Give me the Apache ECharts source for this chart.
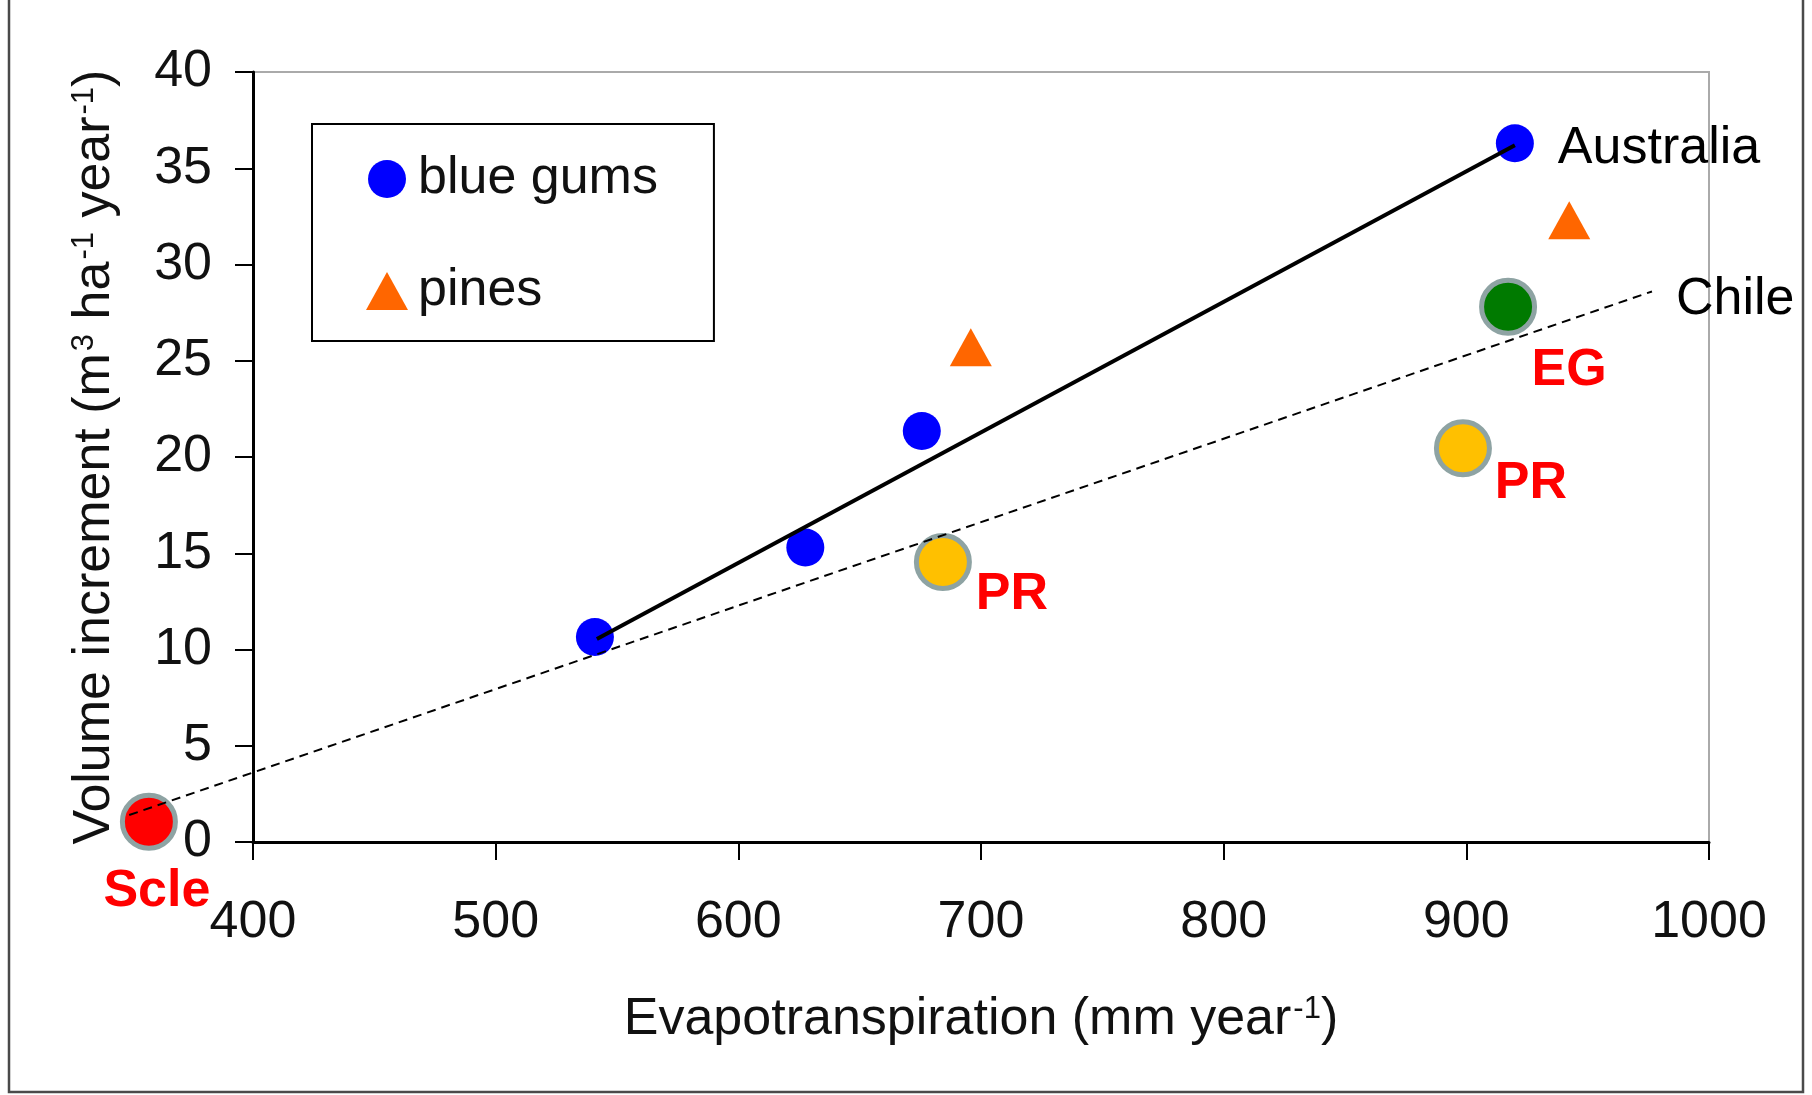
<!DOCTYPE html>
<html><head><meta charset="utf-8">
<script src="https://cdn.jsdelivr.net/npm/echarts@6/dist/echarts.min.js"></script>
<style>html,body{margin:0;padding:0;background:#fff}#c{width:1812px;height:1095px}</style>
</head><body><div id="c"></div>
<script>
// ---- data ----
const blueGumsET  = [540.9, 627.6, 675.6, 920.0];
const blueGumsVol = [10.65, 15.3, 21.35, 36.3];
const pinesET  = [695.8, 942.4];
const pinesVol = [25.7, 32.3];
const highlightNames = ['Scle', 'PR', 'PR', 'EG'];
const highlightET  = [357.1, 684.3, 898.6, 917.2];
const highlightVol = [1.05, 14.55, 20.45, 27.8];
const australiaLineET  = [541.7, 920.0];
const australiaLineVol = [10.55, 36.2];
const chileLineET  = [349.0, 976.5];
const chileLineVol = [1.4, 28.6];
const xTickMin = 400, xTickMax = 1000, xTickStep = 100;
const yTickMin = 0, yTickMax = 40, yTickStep = 5;
const seriesNames = ['blue gums', 'pines'];
const lineNames = ['Australia', 'Chile'];

// ---- styles ----
const FONT = '"Liberation Sans", Arial, Helvetica, sans-serif';
const highlightColors = ['#FF0000', '#FFC000', '#FFC000', '#007A00'];
const highlightLabelOffsets = [[8, 70], [69, 33], [68, 35], [61, 64]];

const pairs = (xs, ys) => xs.map((x, i) => [x, ys[i]]);

const highlightData = highlightET.map((x, i) => ({
  value: [x, highlightVol[i]],
  name: highlightNames[i],
  itemStyle: { color: highlightColors[i] },
  label: { offset: highlightLabelOffsets[i] }
}));

const sup = { fontSize: 31, verticalAlign: 'top', fontFamily: FONT, color: '#111', padding: [0, 0, 0, 2] };

const option = {
  animation: false,
  backgroundColor: '#fff',
  textStyle: { fontFamily: FONT },
  graphic: [{
    type: 'rect', z: -10,
    shape: { x: 9, y: -10, width: 1794, height: 1102 },
    style: { fill: 'none', stroke: '#4a4a4a', lineWidth: 2.5 }
  }],
  grid: {
    left: 253, right: 103, top: 72, bottom: 253,
    containLabel: false, outerBoundsMode: 'none',
    show: true, borderColor: '#aaaaaa', borderWidth: 2, backgroundColor: 'transparent'
  },
  legend: {
    orient: 'vertical', left: 312, top: 124,
    data: seriesNames,
    itemWidth: 42, itemHeight: 38, itemGap: 60,
    padding: [29, 56, 24, 54],
    borderColor: '#000', borderWidth: 2, backgroundColor: '#fff',
    textStyle: { fontSize: 52, lineHeight: 52, color: '#111', fontFamily: FONT, padding: [0, 0, 0, 5] },
    selectedMode: false
  },
  xAxis: {
    type: 'value', min: xTickMin, max: xTickMax, interval: xTickStep,
    name: 'Evapotranspiration (mm year{s|-1})',
    nameLocation: 'middle', nameGap: 152,
    nameTextStyle: { fontSize: 52, color: '#111', fontFamily: FONT, lineHeight: 52, rich: { s: sup } },
    splitLine: { show: false },
    axisLine: { lineStyle: { color: '#000', width: 3 } },
    axisTick: { length: 18, lineStyle: { color: '#000', width: 2 } },
    axisLabel: { fontSize: 52, color: '#111', margin: 55, fontFamily: FONT, formatter: v => String(v) }
  },
  yAxis: {
    type: 'value', min: yTickMin, max: yTickMax, interval: yTickStep,
    name: 'Volume increment (m{s|3} ha{s|-1} year{s|-1})',
    nameLocation: 'middle', nameGap: 132,
    nameTextStyle: { fontSize: 52, color: '#111', fontFamily: FONT, lineHeight: 52, rich: { s: sup } },
    splitLine: { show: false },
    axisLine: { onZero: false, lineStyle: { color: '#000', width: 3 } },
    axisTick: { length: 18, lineStyle: { color: '#000', width: 2 } },
    axisLabel: { fontSize: 52, color: '#111', margin: 41, fontFamily: FONT, formatter: v => String(v) }
  },
  series: [
    {
      name: seriesNames[0], type: 'scatter', clip: false, z: 2,
      symbol: 'circle', symbolSize: 38,
      itemStyle: { color: '#0000FF', opacity: 1 },
      data: pairs(blueGumsET, blueGumsVol)
    },
    {
      name: seriesNames[1], type: 'scatter', clip: false, z: 2,
      symbol: 'triangle', symbolSize: [42, 38],
      itemStyle: { color: '#FF6600', opacity: 1 },
      data: pairs(pinesET, pinesVol)
    },
    {
      name: 'highlight', type: 'scatter', clip: false, z: 2,
      symbol: 'circle', symbolSize: 53,
      itemStyle: { borderColor: '#8EA3A3', borderWidth: 5, opacity: 1 },
      label: {
        show: true, position: 'inside', formatter: '{b}',
        fontSize: 52, fontWeight: 'bold', color: '#FF0000', fontFamily: FONT
      },
      data: highlightData
    },
    {
      name: lineNames[0], type: 'line', clip: false, z: 4, silent: true,
      symbol: 'none',
      lineStyle: { color: '#000', width: 4 },
      data: pairs(australiaLineET, australiaLineVol),
      endLabel: {
        show: true, formatter: lineNames[0], distance: 43, offset: [0, 4],
        fontSize: 52, color: '#000', fontFamily: FONT
      }
    },
    {
      name: lineNames[1], type: 'custom', clip: false, z: 4, silent: true,
      encode: { x: [0, 2], y: [1, 3] },
      data: [[chileLineET[0], chileLineVol[0], chileLineET[1], chileLineVol[1]]],
      renderItem: function (params, api) {
        const p0 = api.coord([api.value(0), api.value(1)]);
        const p1 = api.coord([api.value(2), api.value(3)]);
        return {
          type: 'group',
          children: [
            {
              type: 'polyline',
              shape: { points: [p0, p1] },
              style: { stroke: '#000', lineWidth: 2, lineDash: [9, 6], fill: null }
            },
            {
              type: 'text',
              x: p1[0] + 24, y: p1[1] + 8,
              style: {
                text: lineNames[1], fill: '#000', fontSize: 52, fontFamily: FONT,
                align: 'left', verticalAlign: 'middle'
              }
            }
          ]
        };
      }
    }
  ]
};
const chart = echarts.init(document.getElementById('c'));
chart.setOption(option);
</script>
</body></html>
